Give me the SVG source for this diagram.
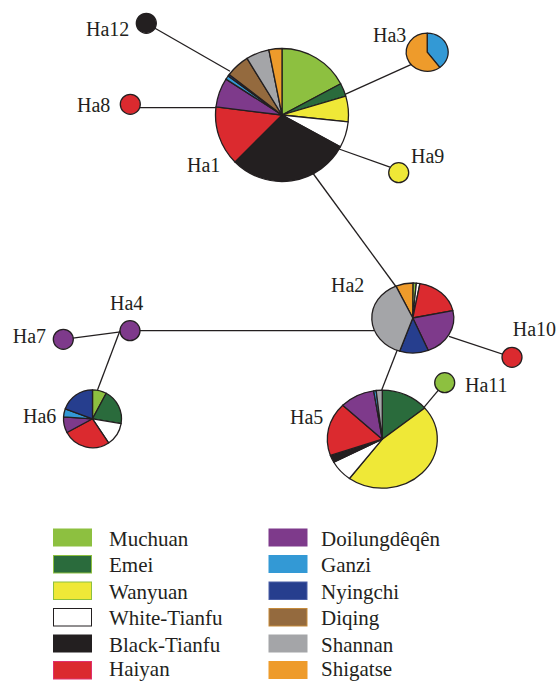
<svg xmlns="http://www.w3.org/2000/svg" width="560" height="681" viewBox="0 0 560 681">
<style>
.s{stroke:#231f20;stroke-width:1.3;stroke-linejoin:round;vector-effect:non-scaling-stroke}
.ln{stroke:#231f20;stroke-width:1.3;fill:none}
.lbl{font-family:"Liberation Serif","Times New Roman",serif;font-size:20px;fill:#231f20}
.leg{font-family:"Liberation Serif","Times New Roman",serif;font-size:21px;fill:#231f20}
.mu{fill:#8dc040}.em{fill:#2a6b3c}.wa{fill:#efe837}.wt{fill:#ffffff}.bt{fill:#231f20}.ha{fill:#db2a2f}
.do{fill:#7e3a8b}.ga{fill:#3399d5}.ny{fill:#263e8e}.di{fill:#946a3e}.sh{fill:#a4a5a8}.sg{fill:#ee9b2b}
</style>
<rect width="560" height="681" fill="#ffffff"/>
<g id="connectors">
<line class="ln" x1="146.3" y1="23.3" x2="230" y2="71.2"/>
<line class="ln" x1="140" y1="107.6" x2="217" y2="107.6"/>
<line class="ln" x1="412" y1="64.2" x2="345" y2="94.3"/>
<line class="ln" x1="390" y1="167.2" x2="339" y2="149"/>
<line class="ln" x1="312" y1="172" x2="397" y2="288"/>
<line class="ln" x1="130" y1="330.7" x2="374" y2="330.7"/>
<line class="ln" x1="449" y1="336.4" x2="512" y2="357.3"/>
<line class="ln" x1="400" y1="343" x2="381.7" y2="390"/>
<line class="ln" x1="444.7" y1="382.7" x2="422.3" y2="409.3"/>
<line class="ln" x1="63.3" y1="339.3" x2="130" y2="330.7"/>
<line class="ln" x1="120" y1="330.5" x2="97.5" y2="390"/>
</g>
<g id="Ha1">
<g transform="translate(282,115)">
<path class="s mu" d="M0,0 L0,-66.5 A66.5,66.5 0 0 1 58.71,-31.22 Z"/>
<path class="s em" d="M0,0 L58.71,-31.22 A66.5,66.5 0 0 1 63.76,-18.89 Z"/>
<path class="s wa" d="M0,0 L63.76,-18.89 A66.5,66.5 0 0 1 66.14,6.95 Z"/>
<path class="s wt" d="M0,0 L66.14,6.95 A66.5,66.5 0 0 1 58.33,31.93 Z"/>
<path class="s bt" d="M0,0 L58.33,31.93 A66.5,66.5 0 0 1 -47.02,47.02 Z"/>
<path class="s ha" d="M0,0 L-47.02,47.02 A66.5,66.5 0 0 1 -66,-8.1 Z"/>
<path class="s do" d="M0,0 L-66,-8.1 A66.5,66.5 0 0 1 -56.03,-35.83 Z"/>
<path class="s ga" d="M0,0 L-56.03,-35.83 A66.5,66.5 0 0 1 -53.8,-39.09 Z"/>
<path class="s ny" d="M0,0 L-53.8,-39.09 A66.5,66.5 0 0 1 -52.76,-40.49 Z"/>
<path class="s di" d="M0,0 L-52.76,-40.49 A66.5,66.5 0 0 1 -34.95,-56.58 Z"/>
<path class="s sh" d="M0,0 L-34.95,-56.58 A66.5,66.5 0 0 1 -13.15,-65.19 Z"/>
<path class="s sg" d="M0,0 L-13.15,-65.19 A66.5,66.5 0 0 1 0,-66.5 Z"/>
</g>
<text class="lbl" x="187" y="172">Ha1</text>
</g>
<g id="Ha2">
<g transform="translate(412.8,318) scale(1,0.8537)">
<path class="s sg" d="M0,0 L-16.87,-37.37 A41,41 0 0 1 0.36,-41 Z"/>
<path class="s mu" d="M0,0 L0.36,-41 A41,41 0 0 1 3.57,-40.84 Z"/>
<path class="s wt" d="M0,0 L3.57,-40.84 A41,41 0 0 1 7.12,-40.38 Z"/>
<path class="s ha" d="M0,0 L7.12,-40.38 A41,41 0 0 1 40.07,-8.66 Z"/>
<path class="s do" d="M0,0 L40.07,-8.66 A41,41 0 0 1 15.49,37.96 Z"/>
<path class="s ny" d="M0,0 L15.49,37.96 A41,41 0 0 1 -13.15,38.84 Z"/>
<path class="s sh" d="M0,0 L-13.15,38.84 A41,41 0 0 1 -16.87,-37.37 Z"/>
</g>
<text class="lbl" x="331" y="292">Ha2</text>
</g>
<g id="Ha3">
<g transform="translate(427.2,52.2) scale(1,0.905)">
<path class="s ga" d="M0,0 L0,-21 A21,21 0 0 1 12.55,16.84 Z"/>
<path class="s sg" d="M0,0 L12.55,16.84 A21,21 0 1 1 0,-21 Z"/>
</g>
<text class="lbl" x="373" y="41.7">Ha3</text>
</g>
<g id="Ha4">
<circle class="s do" cx="130" cy="330.7" r="10"/>
<text class="lbl" x="110" y="310">Ha4</text>
</g>
<g id="Ha5">
<g transform="translate(382.3,439.2) scale(1,0.8909)">
<path class="s em" d="M0,0 L0,-55 A55,55 0 0 1 42.5,-34.91 Z"/>
<path class="s wa" d="M0,0 L42.5,-34.91 A55,55 0 0 1 -32.87,44.1 Z"/>
<path class="s wt" d="M0,0 L-32.87,44.1 A55,55 0 0 1 -48.52,25.91 Z"/>
<path class="s bt" d="M0,0 L-48.52,25.91 A55,55 0 0 1 -51.91,18.18 Z"/>
<path class="s ha" d="M0,0 L-51.91,18.18 A55,55 0 0 1 -39.56,-38.21 Z"/>
<path class="s do" d="M0,0 L-39.56,-38.21 A55,55 0 0 1 -8.6,-54.32 Z"/>
<path class="s ga" d="M0,0 L-8.6,-54.32 A55,55 0 0 1 -6.13,-54.66 Z"/>
<path class="s sh" d="M0,0 L-6.13,-54.66 A55,55 0 0 1 0,-55 Z"/>
</g>
<text class="lbl" x="290" y="423.5">Ha5</text>
</g>
<g id="Ha6">
<g transform="translate(92.5,418.8)">
<path class="s mu" d="M0,0 L0,-29 A29,29 0 0 1 13.75,-25.53 Z"/>
<path class="s em" d="M0,0 L13.75,-25.53 A29,29 0 0 1 28.6,4.79 Z"/>
<path class="s wt" d="M0,0 L28.6,4.79 A29,29 0 0 1 16.09,24.13 Z"/>
<path class="s ha" d="M0,0 L16.09,24.13 A29,29 0 0 1 -25.56,13.71 Z"/>
<path class="s do" d="M0,0 L-25.56,13.71 A29,29 0 0 1 -28.93,-2.02 Z"/>
<path class="s ga" d="M0,0 L-28.93,-2.02 A29,29 0 0 1 -27.23,-9.97 Z"/>
<path class="s ny" d="M0,0 L-27.23,-9.97 A29,29 0 0 1 0,-29 Z"/>
</g>
<text class="lbl" x="23" y="423">Ha6</text>
</g>
<g id="Ha7">
<circle class="s do" cx="63.3" cy="339.3" r="10"/>
<text class="lbl" x="12.7" y="343.3">Ha7</text>
</g>
<g id="Ha8">
<circle class="s ha" cx="130.3" cy="104.3" r="10"/>
<text class="lbl" x="77" y="112.3">Ha8</text>
</g>
<g id="Ha9">
<circle class="s wa" cx="398.7" cy="172.7" r="10"/>
<text class="lbl" x="411" y="163.3">Ha9</text>
</g>
<g id="Ha10">
<circle class="s ha" cx="512" cy="357.3" r="10"/>
<text class="lbl" x="512.7" y="336">Ha10</text>
</g>
<g id="Ha11">
<circle class="s mu" cx="444.7" cy="382.7" r="10"/>
<text class="lbl" x="465" y="391.7">Ha11</text>
</g>
<g id="Ha12">
<circle class="s bt" cx="146.3" cy="23.3" r="10"/>
<text class="lbl" x="86" y="35.7">Ha12</text>
</g>
<g id="legend">
<rect class="mu" x="53" y="528.5" width="39" height="18"/>
<rect class="em" x="53.5" y="555.5" width="38" height="17.5" stroke="#8dc040" stroke-width="1"/>
<rect class="wa" x="53.5" y="582" width="38" height="17.5" stroke="#8dc040" stroke-width="1"/>
<rect class="wt" x="53.5" y="608.5" width="38" height="17.5" stroke="#231f20" stroke-width="1"/>
<rect class="bt" x="53" y="634.5" width="39" height="18"/>
<rect class="ha" x="53.5" y="661.5" width="38" height="17.5" stroke="#e0306e" stroke-width="1"/>
<rect class="do" x="268.5" y="528.5" width="39" height="18"/>
<rect class="ga" x="268.5" y="555" width="39" height="18"/>
<rect class="ny" x="269" y="582" width="38" height="17.5" stroke="#4a5ea6" stroke-width="1"/>
<rect class="di" x="269" y="608.5" width="38" height="17.5" stroke="#c58a3a" stroke-width="1"/>
<rect class="sh" x="268.5" y="634.5" width="39" height="18"/>
<rect class="sg" x="268.5" y="661" width="39" height="18"/>
<text class="leg" x="109" y="545.7">Muchuan</text>
<text class="leg" x="109" y="572.3">Emei</text>
<text class="leg" x="109" y="599">Wanyuan</text>
<text class="leg" x="109" y="625.3">White-Tianfu</text>
<text class="leg" x="109" y="651.7">Black-Tianfu</text>
<text class="leg" x="109" y="675.8">Haiyan</text>
<text class="leg" x="321" y="545.7">Doilungdêqên</text>
<text class="leg" x="321" y="572.3">Ganzi</text>
<text class="leg" x="321" y="599">Nyingchi</text>
<text class="leg" x="321" y="625.3">Diqing</text>
<text class="leg" x="321" y="651.7">Shannan</text>
<text class="leg" x="321" y="675.8">Shigatse</text>
</g>
</svg>
